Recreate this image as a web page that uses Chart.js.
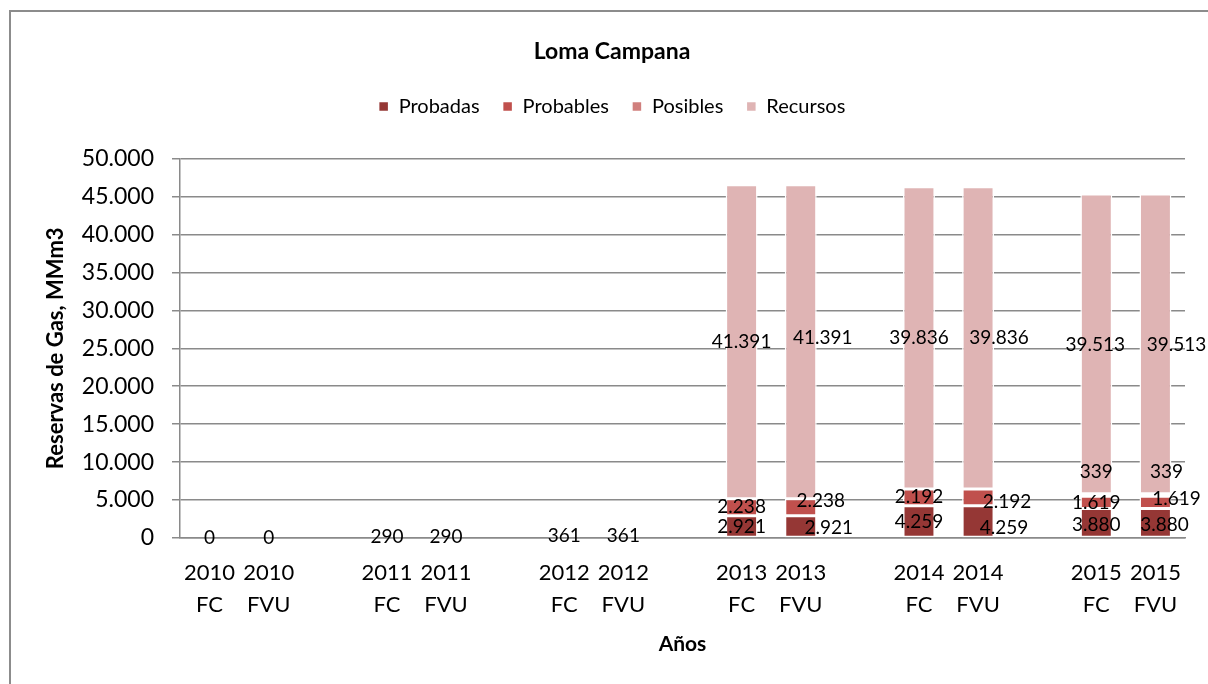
<!DOCTYPE html>
<html>
<head>
<meta charset="utf-8">
<script src="https://cdn.jsdelivr.net/npm/chart.js@4/dist/chart.umd.min.js"></script>
<style>
  body { margin: 0; background: #fff; overflow: hidden; }
  #frame { position: absolute; left: 9px; top: 10px; width: 1400px; height: 900px;
           border-left: 2px solid #8c8c8c; border-top: 2px solid #8c8c8c; }
  canvas { position: absolute; left: 0; top: 0; }
</style>
</head>
<body>
<div id="frame"></div>
<canvas id="myChart" width="1208" height="684"></canvas>
<script>
// categories: each year has FC and FVU, with an empty slot between years
const labels = [
  ['2010', 'FC'], ['2010', 'FVU'], '',
  ['2011', 'FC'], ['2011', 'FVU'], '',
  ['2012', 'FC'], ['2012', 'FVU'], '',
  ['2013', 'FC'], ['2013', 'FVU'], '',
  ['2014', 'FC'], ['2014', 'FVU'], '',
  ['2015', 'FC'], ['2015', 'FVU']
];

const probadas  = [0, 0, null, 290, 290, null, 361, 361, null, 2921, 2921, null, 4259, 4259, null, 3880, 3880];
const probables = [null, null, null, null, null, null, null, null, null, 2238, 2238, null, 2192, 2192, null, 1619, 1619];
const posibles  = [null, null, null, null, null, null, null, null, null, null, null, null, null, null, null, 339, 339];
const recursos  = [null, null, null, null, null, null, null, null, null, 41391, 41391, null, 39836, 39836, null, 39513, 39513];

const yTicks = [0, 5000, 10000, 15000, 20000, 25000, 30000, 35000, 40000, 45000, 50000];

// thousands separator with a dot
function fmt(v) {
  return String(v).replace(/\B(?=(\d{3})+(?!\d))/g, '.');
}

// small hand nudges for labels that were moved in the original
const labelNudge = {
  '0:10': [28, 1], '1:10': [20, -6], '3:10': [22, -4],
  '0:13': [26, 6], '1:13': [29, 5], '3:13': [21, 0],
  '0:15': [0, 2], '2:15': [0, -23], '3:15': [-1, 1],
  '0:16': [9, 2], '1:16': [21, -4], '2:16': [11, -23], '3:16': [21, 1]
};

const FONT = 'Lato, "Open Sans", sans-serif';

const barLabels = {
  id: 'barLabels',
  afterDatasetsDraw(chart) {
    const ctx = chart.ctx;
    ctx.save();
    ctx.font = '19px ' + FONT;
    ctx.fillStyle = '#000';
    ctx.textAlign = 'center';
    ctx.textBaseline = 'middle';
    chart.data.datasets.forEach((ds, di) => {
      const meta = chart.getDatasetMeta(di);
      meta.data.forEach((bar, i) => {
        const v = ds.data[i];
        if (v === null || v === undefined) return;
        const n = labelNudge[di + ':' + i] || [0, 0];
        ctx.fillText(fmt(v), bar.x + n[0], (bar.y + bar.base) / 2 + n[1]);
      });
    });
    ctx.restore();
  }
};

// push the plot down below the legend
const legendGap = {
  id: 'legendGap',
  beforeLayout(chart) {
    const lg = chart.legend;
    if (lg && !lg._gapDone) {
      const fit = lg.fit;
      lg.fit = function() { fit.call(this); this.height += 32; };
      lg._gapDone = true;
    }
  }
};

const ctx = document.getElementById('myChart').getContext('2d');

function makeSet(label, data, color) {
  return {
    label: label,
    data: data,
    backgroundColor: color,
    borderColor: '#ffffff',
    borderWidth: 1.5,
    borderSkipped: false,
    barPercentage: 0.54,
    categoryPercentage: 1
  };
}

const chart = new Chart(ctx, {
  type: 'bar',
  data: {
    labels: labels,
    datasets: [
      makeSet('Probadas', probadas, '#953735'),
      makeSet('Probables', probables, '#c0504d'),
      makeSet('Posibles', posibles, '#d07f7d'),
      makeSet('Recursos', recursos, '#dfb4b4')
    ]
  },
  options: {
    responsive: false,
    animation: false,
    layout: { padding: { left: 39, right: 23, top: 14, bottom: 23 } },
    plugins: {
      title: {
        display: true,
        text: 'Loma Campana',
        color: '#000',
        font: { family: FONT, size: 23, weight: 'bold' },
        padding: { top: 24, bottom: 8 }
      },
      legend: {
        position: 'top',
        labels: {
          color: '#000',
          font: { family: FONT, size: 20 },
          boxWidth: 10,
          boxHeight: 10,
          padding: 23
        }
      },
      tooltip: { enabled: false }
    },
    scales: {
      x: {
        stacked: true,
        grid: { display: false },
        border: { display: true, color: '#8a8a8a', width: 1.5 },
        ticks: {
          color: '#000',
          font: { family: FONT, size: 22, lineHeight: 1.45 },
          padding: 11,
          maxRotation: 0,
          autoSkip: false
        },
        title: {
          display: true,
          text: 'Años',
          color: '#000',
          font: { family: FONT, size: 21, weight: 'bold' }
        },
        afterFit(s) { s.height = 684 - 538 - 23; }
      },
      y: {
        stacked: true,
        min: 0,
        max: 50000,
        afterBuildTicks(s) { s.ticks = yTicks.map(v => ({ value: v })); },
        grid: { color: '#8a8a8a', lineWidth: 1.5, tickLength: 8 },
        border: { display: true, color: '#8a8a8a', width: 1.5 },
        ticks: {
          color: '#000',
          font: { family: FONT, size: 23 },
          padding: 18,
          callback: v => fmt(v)
        },
        title: {
          display: true,
          text: 'Reservas de Gas, MMm3',
          color: '#000',
          font: { family: FONT, size: 22, weight: 'bold' }
        },
        afterFit(s) { s.width = 180 - 39; }
      }
    }
  },
  plugins: [barLabels, legendGap]
});
</script>
</body>
</html>
